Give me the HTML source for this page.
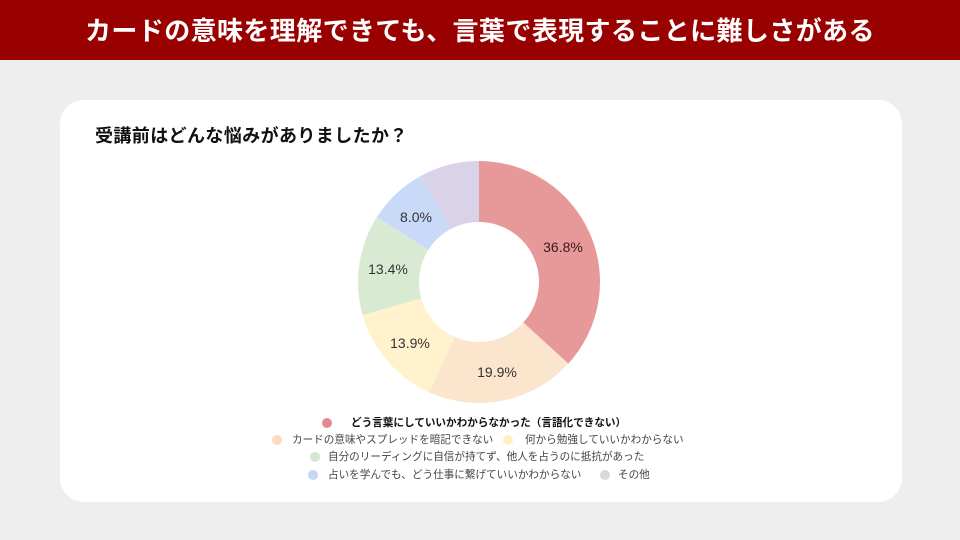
<!DOCTYPE html>
<html><head><meta charset="utf-8">
<style>
html,body{margin:0;padding:0;}
body{width:960px;height:540px;background:#eeeeee;position:relative;overflow:hidden;font-family:"Liberation Sans","Noto Sans CJK JP",sans-serif;}
.hdr{position:absolute;left:0;top:0;width:960px;height:60px;background:#990000;}
.ttl{position:absolute;left:85px;top:0;height:60px;line-height:60px;color:#fff;font-weight:bold;font-size:26px;letter-spacing:0.4px;font-family:"Noto Sans CJK JP",sans-serif;white-space:nowrap;}
.card{position:absolute;left:60px;top:100px;width:842px;height:402px;background:#fff;border-radius:24px;}
.sub{position:absolute;left:95px;top:122px;font-size:18px;line-height:26px;font-weight:bold;color:#111;letter-spacing:0.4px;font-family:"Noto Sans CJK JP",sans-serif;white-space:nowrap;}
.lg{position:absolute;font-size:10.6px;line-height:14px;color:#444;font-family:"Noto Sans CJK JP",sans-serif;white-space:nowrap;}
.dot{position:absolute;width:10px;height:10px;border-radius:50%;}
</style></head><body>
<div class="hdr"></div>
<div class="ttl">カードの意味を理解できても、言葉で表現することに難しさがある</div>
<div class="card"></div>
<div class="sub">受講前はどんな悩みがありましたか？</div>
<svg style="position:absolute;left:0;top:0" width="960" height="540" viewBox="0 0 960 540">
<path d="M479,161 A121,121 0 0 1 568.27,363.68 L523.27,322.5 A60,60 0 0 0 479,222 Z" fill="#e79999"/>
<path d="M568.27,363.68 A121,121 0 0 1 429.55,392.44 L454.48,336.76 A60,60 0 0 0 523.27,322.5 Z" fill="#fce5cd"/>
<path d="M429.55,392.44 A121,121 0 0 1 362.6,315.02 L421.28,298.37 A60,60 0 0 0 454.48,336.76 Z" fill="#fff2cc"/>
<path d="M362.6,315.02 A121,121 0 0 1 376.84,217.17 L428.34,249.85 A60,60 0 0 0 421.28,298.37 Z" fill="#d9ead3"/>
<path d="M376.84,217.17 A121,121 0 0 1 420.70,175.97 L450.09,229.42 A60,60 0 0 0 428.34,249.85 Z" fill="#c9daf8"/>
<path d="M420.70,175.97 A121,121 0 0 1 479,161 L479,222 A60,60 0 0 0 450.09,229.42 Z" fill="#d9d2e9"/>
<g font-family="Liberation Sans, Arial, sans-serif" font-size="14" text-anchor="middle" fill="#333">
<text x="563" y="252" fill="#3a1a1a">36.8%</text>
<text x="497" y="377">19.9%</text>
<text x="410" y="348">13.9%</text>
<text x="388" y="274">13.4%</text>
<text x="416" y="222">8.0%</text>
</g>
</svg>
<div class="dot" style="left:322px;top:418px;background:#e08c8c"></div>
<div class="lg" style="left:351px;top:416px;color:#111;font-weight:bold;">どう言葉にしていいかわからなかった（言語化できない）</div>
<div class="dot" style="left:272px;top:435px;background:#fbdcc0"></div>
<div class="lg" style="left:292px;top:433px;">カードの意味やスプレッドを暗記できない</div>
<div class="dot" style="left:503px;top:435px;background:#fff0c4"></div>
<div class="lg" style="left:525px;top:433px;">何から勉強していいかわからない</div>
<div class="dot" style="left:310px;top:452px;background:#d5e6cf"></div>
<div class="lg" style="left:328px;top:450px;">自分のリーディングに自信が持てず、他人を占うのに抵抗があった</div>
<div class="dot" style="left:308px;top:470px;background:#c6d6f3"></div>
<div class="lg" style="left:328px;top:468px;">占いを学んでも、どう仕事に繋げていいかわからない</div>
<div class="dot" style="left:600px;top:470px;background:#d9d9d9"></div>
<div class="lg" style="left:618px;top:468px;">その他</div>
</body></html>
